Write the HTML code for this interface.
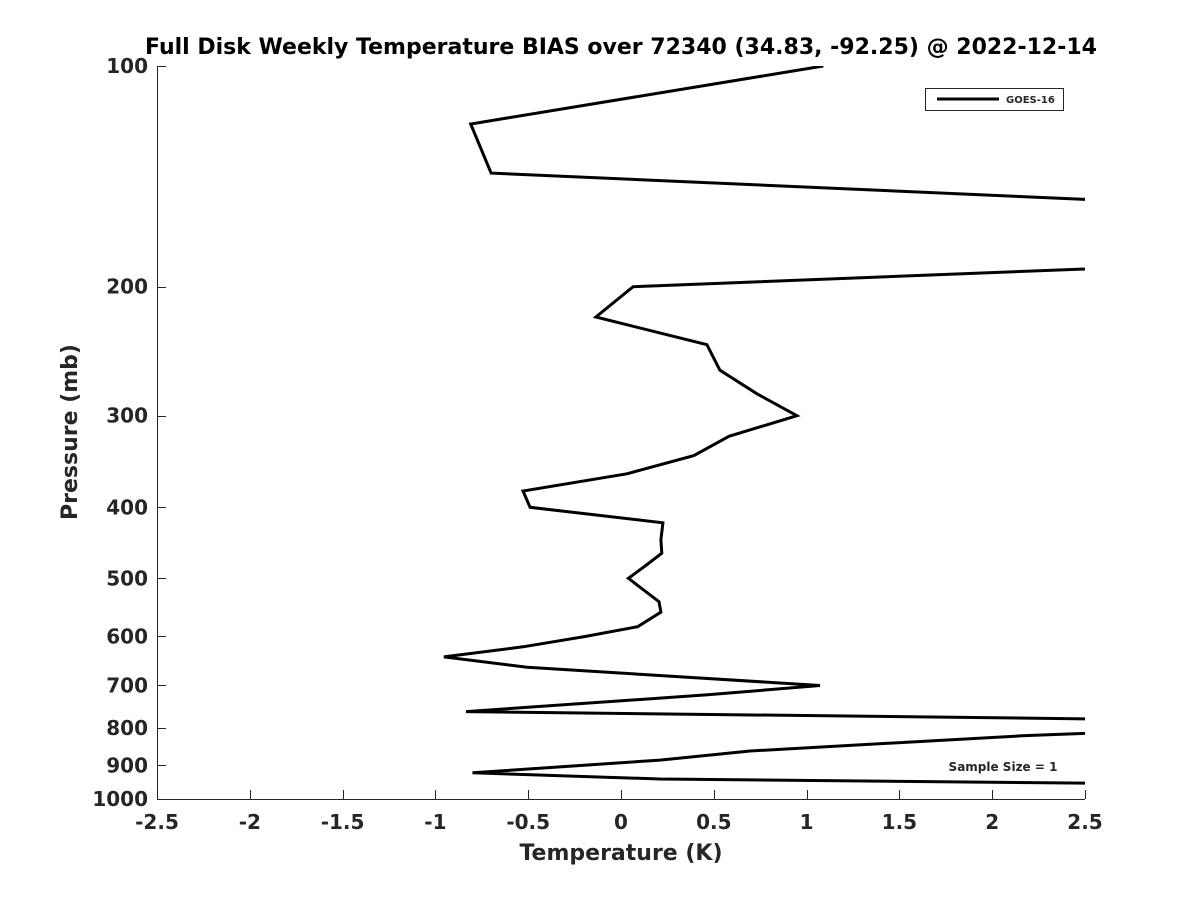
<!DOCTYPE html>
<html><head><meta charset="utf-8"><style>
html,body{margin:0;padding:0;background:#fff;}
svg text{font-family:"DejaVu Sans","Liberation Sans",sans-serif;font-weight:bold;fill:#262626;}
</style></head><body>
<svg id="chart" width="1200" height="900" xmlns="http://www.w3.org/2000/svg">
<text x="621" y="54" font-size="22" text-anchor="middle" fill="#000" style="fill:#000">Full Disk Weekly Temperature BIAS over 72340 (34.83, -92.25) @ 2022-12-14</text>
<defs><clipPath id="pc"><rect x="157" y="66" width="928" height="733"/></clipPath></defs>
<g id="axes"></g>
<g id="series" clip-path="url(#pc)"></g>
<g>
<rect x="925.5" y="88.5" width="138" height="22" fill="#fff" stroke="#262626" stroke-width="1"/>
<line x1="937" y1="99" x2="999" y2="99" stroke="#000" stroke-width="3"/>
<text x="1006" y="103" font-size="10">GOES-16</text>
</g>
<text x="1003" y="771" font-size="12" text-anchor="middle">Sample Size = 1</text>
<text x="621" y="860" font-size="22" text-anchor="middle">Temperature (K)</text>
<text transform="translate(77,432) rotate(-90)" font-size="22" text-anchor="middle">Pressure (mb)</text>
</svg>
<script>
const xTicks = [-2.5,-2,-1.5,-1,-0.5,0,0.5,1,1.5,2,2.5];
const xTickLabels = ["-2.5","-2","-1.5","-1","-0.5","0","0.5","1","1.5","2","2.5"];
const yTicks = [100,200,300,400,500,600,700,800,900,1000];
const yTickLabels = ["100","200","300","400","500","600","700","800","900","1000"];
const pressures = [100,120,140,154,187,200,220,240,260,280,300,320,340,360,380,400,420,443,462,481,500,538,556,582,600,620,640,661,700,721,760,780,805,820,860,885,921,939,954];
const biasValues = [1.09,-0.81,-0.70,3.0,3.0,0.065,-0.135,0.463,0.533,0.733,0.948,0.582,0.393,0.032,-0.528,-0.49,0.226,0.215,0.22,0.13,0.04,0.205,0.215,0.09,-0.19,-0.528,-0.954,-0.506,1.072,0.458,-0.835,3.0,3.0,2.16,0.695,0.21,-0.80,0.21,3.0];
const NS="http://www.w3.org/2000/svg";
const X0=157,X1=1085,Y0=66,Y1=799;
function xs(v){return X0+(v+2.5)/5*(X1-X0);}
function ys(p){return Y0+(Math.log10(p)-2)*(Y1-Y0);}
const axes=document.getElementById('axes');
function mk(t,a,parent){const e=document.createElementNS(NS,t);for(const k in a)e.setAttribute(k,a[k]);parent.appendChild(e);return e;}
const xl=mk('line',{x1:X0,y1:Y1+0.5,x2:X1,y2:Y1+0.5,stroke:'#262626','stroke-width':1},axes);


const yl=mk('line',{x1:X0+0.5,y1:Y0,x2:X0+0.5,y2:Y1,stroke:'#262626','stroke-width':1},axes);


xTicks.forEach((v,i)=>{
  const x=Math.round(xs(v))+0.5;
  const t=mk('line',{x1:x,y1:Y1,x2:x,y2:Y1-9,stroke:'#262626','stroke-width':1},axes);
  
  
  const l=mk('text',{x:xs(v),y:Y1+30,'font-size':20,'text-anchor':'middle'},axes);
  l.textContent=xTickLabels[i];
  
  
});
yTicks.forEach((p,i)=>{
  const y=Math.round(ys(p))+0.5;
  const t=mk('line',{x1:X0,y1:y,x2:X0+9,y2:y,stroke:'#262626','stroke-width':1},axes);
  
  
  const l=mk('text',{x:X0-9,y:ys(p)+7,'font-size':20,'text-anchor':'end'},axes);
  l.textContent=yTickLabels[i];
  
  
});
const pts=pressures.map((p,i)=>xs(biasValues[i]).toFixed(1)+','+ys(p).toFixed(1)).join(' ');
const line=mk('polyline',{points:pts,fill:'none',stroke:'#000','stroke-width':3,'stroke-linejoin':'miter'},document.getElementById('series'));


</script>
</body></html>
